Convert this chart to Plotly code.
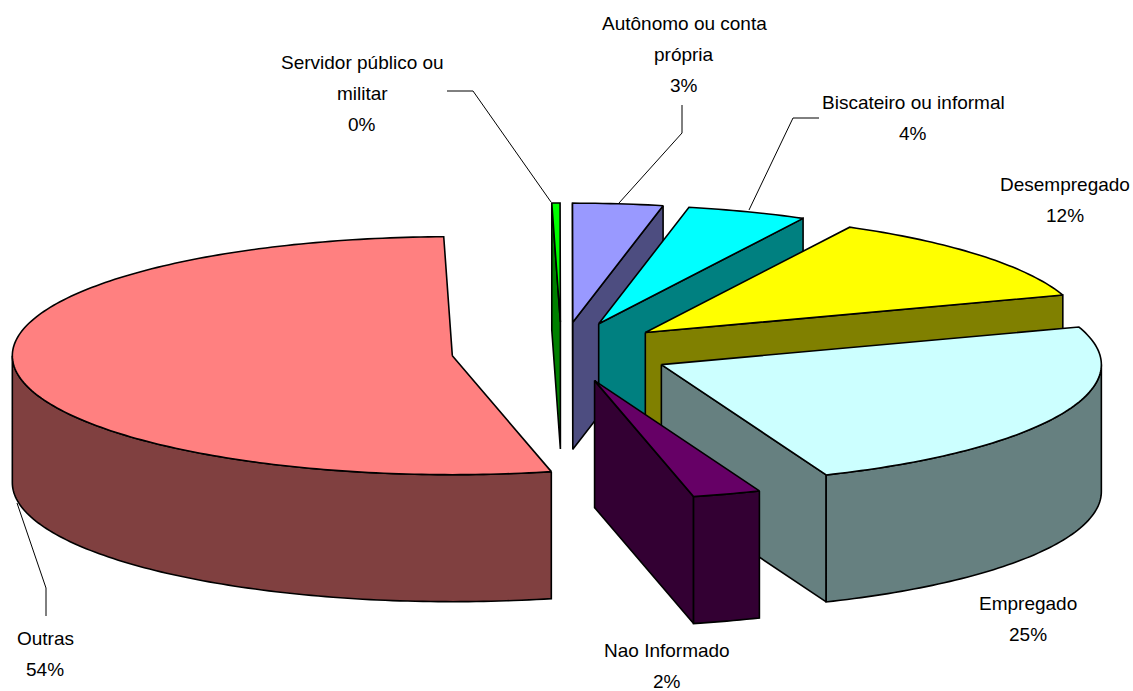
import math
import plotly.graph_objects as go

# --- chart data ---
categories = ["Outras", "Servidor público ou militar", "Autônomo ou conta própria",
              "Biscateiro ou informal", "Desempregado", "Empregado", "Nao Informado"]
values = [53.3, 0.3, 3.3, 4.4, 12.2, 24.0, 2.5]
percent_labels = ["54%", "0%", "3%", "4%", "12%", "25%", "2%"]
top_colors = ["#FF8080", "#00FF00", "#9999FF", "#00FFFF", "#FFFF00", "#CCFFFF", "#660066"]
side_colors = ["#804040", "#008000", "#4D4D80", "#008080", "#808000", "#668080", "#330033"]
label_lines = [["Outras"], ["Servidor público ou", "militar"], ["Autônomo ou conta", "própria"],
               ["Biscateiro ou informal"], ["Desempregado"], ["Empregado"], ["Nao Informado"]]

# --- pie geometry (page pixels) ---
W, H = 1133, 691
CX, CY = 561.5, 352
RX, RY = 440, 119
DEPTH = 127
EXPLODE_X, EXPLODE_Y = 110, 30
FIRST_ANGLE = 167.0
LINE_W = 1.6
FONT = "Liberation Sans, Arial, sans-serif"
FONT_SIZE = 19
LINE_GAP = 31

# label anchor: centre x, centre y of first line
label_pos = [(45, 638), (362, 62), (684, 23), (913, 102), (1065, 184), (1028, 603), (667, 650)]
# leader lines
leaders = [
    [(46, 616), (46, 588), (17, 503)],
    [(447, 91), (473, 91), (551, 202)],
    [(682, 105), (682, 133), (619, 203)],
    [(819, 118), (793, 118), (749, 210)],
]


def arc(ax, ay, t0, t1, dy=0.0):
    n = max(2, int(abs(t1 - t0)) + 2)
    pts = []
    for i in range(n):
        t = math.radians(t0 + (t1 - t0) * i / (n - 1))
        pts.append((ax + RX * math.sin(t), ay - RY * math.cos(t) + dy))
    return pts


def poly(fig, pts, color, name):
    xs = [p[0] for p in pts] + [pts[0][0]]
    ys = [p[1] for p in pts] + [pts[0][1]]
    fig.add_trace(go.Scatter(x=xs, y=ys, mode="lines", fill="toself", fillcolor=color,
                             line=dict(color="black", width=LINE_W, simplify=False),
                             name=name, showlegend=False, hoverinfo="name"))


slices = []
angle = FIRST_ANGLE
total = sum(values)
for i, v in enumerate(values):
    sweep = 360.0 * v / total
    t0 = angle if angle < 360 else angle - 360
    slices.append(dict(i=i, t0=t0, t1=t0 + sweep, mid=t0 + sweep / 2))
    angle += sweep

fig = go.Figure()
for s in sorted(slices, key=lambda s: -math.cos(math.radians(s["mid"]))):
    i, t0, t1, mid = s["i"], s["t0"], s["t1"], math.radians(s["mid"])
    ax = CX + EXPLODE_X * math.sin(mid)
    ay = CY - EXPLODE_Y * math.cos(mid)
    name, top, side = categories[i], top_colors[i], side_colors[i]
    # radial cut faces facing the viewer
    for t, visible in ((t0, math.sin(math.radians(t0)) < 0), (t1, math.sin(math.radians(t1)) > 0)):
        if visible:
            r = arc(ax, ay, t, t, 0)[0]
            poly(fig, [(ax, ay), r, (r[0], r[1] + DEPTH), (ax, ay + DEPTH)], side, name)
    # curved outer wall
    lo, hi = max(t0, 90.0), min(t1, 270.0)
    if hi > lo:
        poly(fig, arc(ax, ay, lo, hi) + arc(ax, ay, hi, lo, DEPTH), side, name)
    # top face
    poly(fig, [(ax, ay)] + arc(ax, ay, t0, t1), top, name)

for pts in leaders:
    fig.add_trace(go.Scatter(x=[p[0] for p in pts], y=[p[1] for p in pts], mode="lines",
                             line=dict(color="black", width=1), showlegend=False, hoverinfo="skip"))

for lines, pct, (lx, ly) in zip(label_lines, percent_labels, label_pos):
    for k, text in enumerate(lines + [pct]):
        fig.add_annotation(x=lx, y=ly + k * LINE_GAP, text=text, showarrow=False,
                           xanchor="center", yanchor="middle",
                           font=dict(family=FONT, size=FONT_SIZE, color="black"))

fig.update_layout(width=W, height=H, autosize=False, margin=dict(l=0, r=0, t=0, b=0),
                  paper_bgcolor="white", plot_bgcolor="white", showlegend=False,
                  xaxis=dict(range=[0, W], visible=False, fixedrange=True),
                  yaxis=dict(range=[H, 0], visible=False, fixedrange=True))
fig.write_html("out.html", config=dict(displayModeBar=False),
               post_script="document.body.style.margin='0';document.body.style.overflow='hidden';")
